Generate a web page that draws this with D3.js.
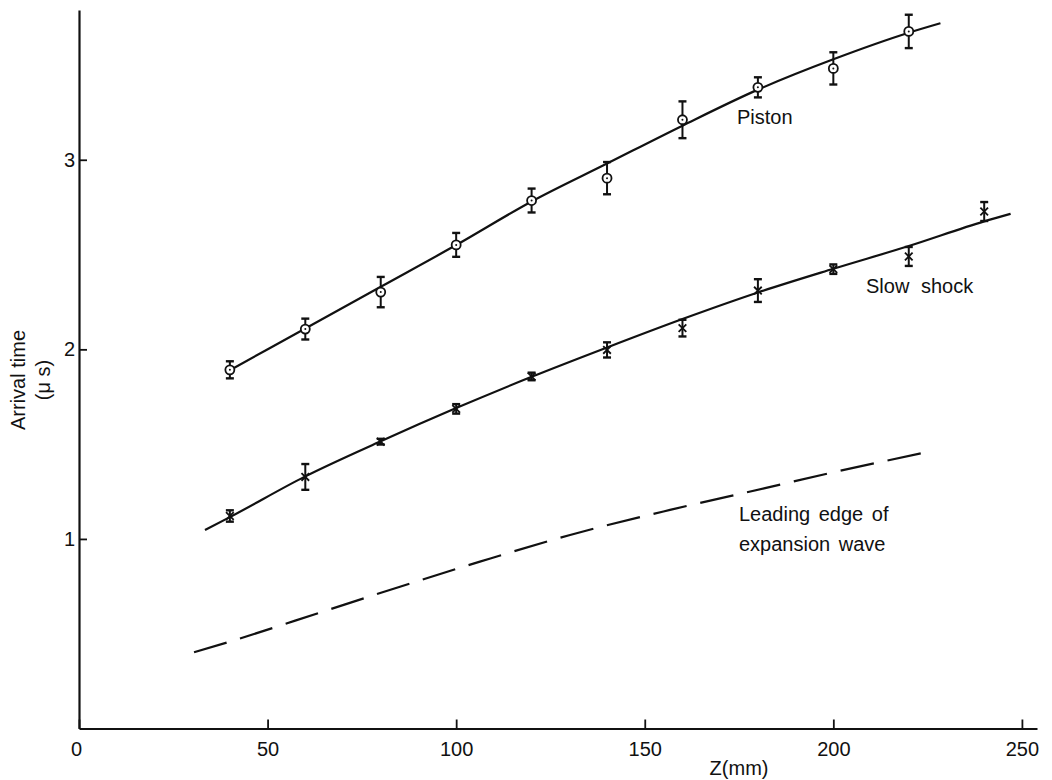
<!DOCTYPE html>
<html>
<head>
<meta charset="utf-8">
<script src="https://cdn.jsdelivr.net/npm/d3@7"></script>
<style>
  body { margin: 0; background: #fff; }
  svg { display: block; font-family: "Liberation Sans", Arial, sans-serif; }
</style>
</head>
<body>
<svg></svg>
<script>
// Measured points (Z in mm, arrival time in microseconds)
let pistonZ = [40, 60, 80, 100, 120, 140, 160, 180, 200, 220];
let pistonTime = [1.892, 2.107, 2.302, 2.551, 2.785, 2.903, 3.211, 3.382, 3.482, 3.677];
let pistonErr = [0.045, 0.055, 0.08, 0.063, 0.063, 0.085, 0.097, 0.053, 0.085, 0.088];

let shockZ = [40, 60, 80, 100, 120, 140, 160, 180, 200, 220, 240];
let shockTime = [1.121, 1.327, 1.513, 1.686, 1.857, 1.997, 2.112, 2.31, 2.423, 2.49, 2.727];
let shockErr = [0.03, 0.068, 0.015, 0.025, 0.02, 0.04, 0.044, 0.06, 0.025, 0.05, 0.05];

// Fitted curves
let pistonFitZ = [40, 60, 80, 100, 120, 140, 160, 180, 200, 220, 228.4];
let pistonFitTime = [1.89, 2.11, 2.33, 2.55, 2.78, 2.98, 3.18, 3.37, 3.53, 3.67, 3.72];

let shockFitZ = [33.4, 40, 60, 80, 100, 120, 140, 160, 180, 200, 220, 240, 247];
let shockFitTime = [1.047, 1.115, 1.33, 1.515, 1.69, 1.855, 2.01, 2.16, 2.3, 2.425, 2.545, 2.675, 2.715];

// Leading edge of expansion wave (dashed)
let edgeZ = [30.5, 41.4, 65.2, 85.1, 106.3, 130.2, 156.7, 181.9, 199, 223.4];
let edgeTime = [0.402, 0.467, 0.62, 0.748, 0.88, 1.021, 1.153, 1.268, 1.347, 1.452];

// Ticks
let xTicks = [0, 50, 100, 150, 200, 250];
let yTicks = [1, 2, 3];

let width = 1052;
let height = 780;

let svg = d3.select("svg").attr("width", width).attr("height", height);

let xScale = d3.scaleLinear().domain([0, 254]).range([79, 1037]);
let yScale = d3.scaleLinear().domain([0, 3.79]).range([728.5, 10]);

let zip = (xs, ys) => xs.map((x, i) => [x, ys[i]]);

let drawAxes = () => {
	let xAxis = d3.axisBottom(xScale).tickValues(xTicks).tickFormat(d3.format("d"))
		.tickSizeInner(-9).tickSizeOuter(0).tickPadding(13);
	let yAxis = d3.axisLeft(yScale).tickValues(yTicks).tickFormat(d3.format("d"))
		.tickSizeInner(-8).tickSizeOuter(0).tickPadding(4);

	let gx = svg.append("g").attr("transform", "translate(0," + yScale(0) + ")").call(xAxis);
	let gy = svg.append("g").attr("transform", "translate(" + xScale(0) + ",0)").call(yAxis);

	[gx, gy].forEach((g) => {
		g.select(".domain").attr("stroke", "#111").attr("stroke-width", 2.2);
		g.selectAll(".tick line").attr("stroke", "#111").attr("stroke-width", 1.8);
		g.selectAll(".tick text").attr("font-size", 20).attr("fill", "#111").attr("font-family", "Liberation Sans, Arial, sans-serif");
	});
	gx.selectAll(".tick text").attr("dx", (d) => (d === 0 ? -3 : 0));

	svg.append("text")
		.attr("x", xScale(175))
		.attr("y", 775)
		.attr("text-anchor", "middle")
		.attr("font-size", 20)
		.attr("fill", "#111")
		.text("Z(mm)");

	let yLabel = svg.append("g").attr("transform", "translate(0,380) rotate(-90)");
	yLabel.append("text").attr("x", 0).attr("y", 25).attr("text-anchor", "middle").attr("font-size", 20).attr("fill", "#111").text("Arrival time");
	yLabel.append("text").attr("x", 0).attr("y", 50).attr("text-anchor", "middle").attr("font-size", 20).attr("fill", "#111").text("(μ s)");
};

let drawCurves = () => {
	let line = d3.line()
		.x((d) => xScale(d[0]))
		.y((d) => yScale(d[1]))
		.curve(d3.curveMonotoneX);

	svg.append("path").datum(zip(pistonFitZ, pistonFitTime))
		.attr("d", line).attr("fill", "none").attr("stroke", "#111").attr("stroke-width", 2.2);
	svg.append("path").datum(zip(shockFitZ, shockFitTime))
		.attr("d", line).attr("fill", "none").attr("stroke", "#111").attr("stroke-width", 2.2);
	svg.append("path").datum(zip(edgeZ, edgeTime))
		.attr("d", line).attr("fill", "none").attr("stroke", "#111").attr("stroke-width", 2.2)
		.attr("stroke-dasharray", "34,14");
};

let drawErrorBars = (zs, ts, errs) => {
	let g = svg.append("g").attr("stroke", "#111").attr("stroke-width", 2);
	zs.forEach((z, i) => {
		let x = xScale(z);
		let y1 = yScale(ts[i] + errs[i]);
		let y2 = yScale(ts[i] - errs[i]);
		g.append("line").attr("x1", x).attr("x2", x).attr("y1", y1).attr("y2", y2);
		g.append("line").attr("x1", x - 4).attr("x2", x + 4).attr("y1", y1).attr("y2", y1).attr("stroke-width", 2.4);
		g.append("line").attr("x1", x - 4).attr("x2", x + 4).attr("y1", y2).attr("y2", y2).attr("stroke-width", 2.4);
	});
};

let drawPoints = () => {
	drawErrorBars(pistonZ, pistonTime, pistonErr);
	drawErrorBars(shockZ, shockTime, shockErr);

	let piston = svg.append("g");
	pistonZ.forEach((z, i) => {
		piston.append("circle").attr("cx", xScale(z)).attr("cy", yScale(pistonTime[i])).attr("r", 4.5)
			.attr("fill", "#fff").attr("stroke", "#111").attr("stroke-width", 1.8);
		piston.append("circle").attr("cx", xScale(z)).attr("cy", yScale(pistonTime[i])).attr("r", 1)
			.attr("fill", "#111");
	});

	let cross = d3.symbol().type(d3.symbolTimes).size(40);
	svg.append("g").selectAll("path")
		.data(zip(shockZ, shockTime))
		.join("path")
		.attr("transform", (d) => "translate(" + xScale(d[0]) + "," + yScale(d[1]) + ")")
		.attr("d", cross)
		.attr("fill", "none")
		.attr("stroke", "#111")
		.attr("stroke-width", 1.8);
};

let drawLabels = () => {
	svg.append("text").attr("x", 737).attr("y", 124).attr("font-size", 20).attr("fill", "#111").text("Piston");
	svg.append("text").attr("x", 866).attr("y", 293).attr("font-size", 20).attr("fill", "#111")
		.attr("word-spacing", 6).text("Slow shock");
	svg.append("text").attr("x", 739).attr("y", 521).attr("font-size", 20).attr("fill", "#111")
		.attr("word-spacing", 3).text("Leading edge of");
	svg.append("text").attr("x", 739).attr("y", 551).attr("font-size", 20).attr("fill", "#111")
		.attr("word-spacing", 3).text("expansion wave");
};

drawAxes();
drawCurves();
drawPoints();
drawLabels();
</script>
</body>
</html>
